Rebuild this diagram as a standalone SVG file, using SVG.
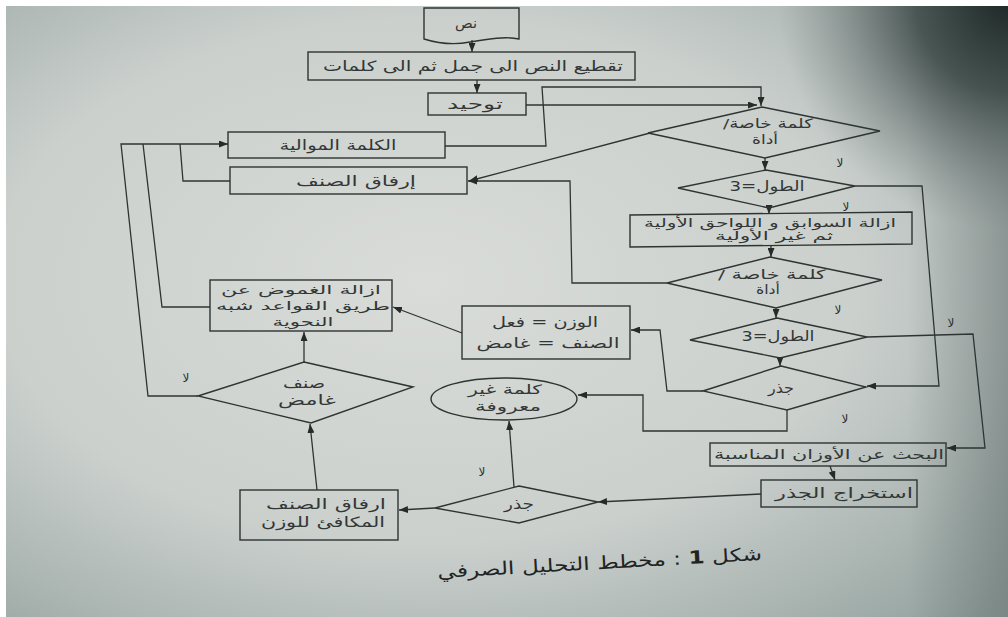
<svg xmlns="http://www.w3.org/2000/svg" width="1008" height="617" viewBox="0 0 1008 617">
<defs>
<radialGradient id="paper" cx="0.42" cy="0.45" r="0.78">
<stop offset="0" stop-color="#d9dcd8"/>
<stop offset="0.55" stop-color="#cbd0cd"/>
<stop offset="1" stop-color="#93a19e"/>
</radialGradient>
<radialGradient id="corner" cx="1008" cy="0" r="230" gradientUnits="userSpaceOnUse">
<stop offset="0" stop-color="#1e2927" stop-opacity="1"/>
<stop offset="0.4" stop-color="#34403e" stop-opacity="0.8"/>
<stop offset="1" stop-color="#6a7674" stop-opacity="0"/>
</radialGradient>
<linearGradient id="rside" x1="0" y1="0" x2="1" y2="0">
<stop offset="0.9" stop-color="#5c6866" stop-opacity="0"/>
<stop offset="1" stop-color="#5c6866" stop-opacity="0.45"/>
</linearGradient>
<marker id="ah" markerWidth="9" markerHeight="7" refX="9" refY="3.5" orient="auto" markerUnits="userSpaceOnUse">
<path d="M0,0 L9,3.5 L0,7 Z" fill="#262b2a"/>
</marker>
<style>
.ln{fill:none;stroke:#2e3433;stroke-width:1.3}
.ar{fill:none;stroke:#2e3433;stroke-width:1.3;marker-end:url(#ah)}
.bx{fill:none;stroke:#2e3433;stroke-width:1.4}
.t{font-family:"DejaVu Sans",sans-serif;font-size:14px;fill:#323736;text-anchor:middle;direction:rtl}
.s{font-size:13px}
.xs{font-size:12px}
.no{font-family:"DejaVu Sans",sans-serif;font-size:12px;fill:#2b302f;text-anchor:middle}
.cap{font-family:"DejaVu Sans",sans-serif;font-size:18px;fill:#1f2423;text-anchor:middle;direction:rtl}
</style>
</defs>
<rect width="1008" height="617" fill="#ffffff"/>
<rect x="6" y="6" width="1002" height="611" fill="url(#paper)"/>
<rect x="6" y="6" width="1002" height="611" fill="url(#rside)"/>
<rect x="6" y="6" width="1002" height="611" fill="url(#corner)"/>

<g id="connectors">
<path class="ar" d="M472,40 V52"/>
<path class="ar" d="M477,80 V93"/>
<path class="ar" d="M526,105 H757"/>
<path class="ar" d="M445,146 H546 L542,87 H761 V106"/>
<path class="ar" d="M650,133 L469,181"/>
<path class="ar" d="M765,158 V170"/>
<path class="ar" d="M855,186 H922 L939,386 H867"/>
<path class="ar" d="M769,207 V214"/>
<path class="ar" d="M771,246 V257"/>
<path class="ar" d="M667,283 H572 L570,181 H468"/>
<path class="ar" d="M776,308 V318"/>
<path class="ar" d="M867,337 L973,334 L985,448 H947"/>
<path class="ar" d="M780,358 V366"/>
<path class="ar" d="M703,391 H667 L660,330 H631"/>
<path class="ar" d="M787,410 V431 H643 V395 H578"/>
<path class="ar" d="M462,333 L393,307"/>
<path class="ln" d="M210,307 H162 L143,144"/>
<path class="ar" d="M198,396 H148 L121,144 H228"/>
<path class="ln" d="M230,181 H183 L180,144"/>
<path class="ar" d="M304,362 V332"/>
<path class="ar" d="M317,490 L310,424"/>
<path class="ar" d="M514,487 L509,421"/>
<path class="ar" d="M435,508 L399,510"/>
<path class="ar" d="M761,494 L598,502"/>
<path class="ar" d="M830,466 L835,480"/>
</g>

<g id="n-text">
<path class="bx" d="M424,8 H519 V39 C505,36 488,39 470,42 C455,45 440,44 424,39 Z"/>
<text class="t" x="466" y="28" textLength="22" lengthAdjust="spacingAndGlyphs">نص</text>
</g>
<g id="n-split">
<rect class="bx" x="308" y="52" width="327" height="28"/>
<text class="t" x="473" y="71" textLength="300" lengthAdjust="spacingAndGlyphs">تقطيع النص الى جمل ثم الى كلمات</text>
</g>
<g id="n-unify">
<rect class="bx" x="428" y="93" width="98" height="22"/>
<text class="t" x="475" y="109" textLength="56" lengthAdjust="spacingAndGlyphs">توحيد</text>
</g>
<g id="n-next">
<rect class="bx" x="228" y="132" width="217" height="26"/>
<text class="t" x="338" y="150" textLength="117" lengthAdjust="spacingAndGlyphs">الكلمة الموالية</text>
</g>
<g id="n-attach">
<rect class="bx" x="230" y="167" width="237" height="27"/>
<text class="t" x="356" y="186" textLength="120" lengthAdjust="spacingAndGlyphs">إرفاق الصنف</text>
</g>
<g id="n-d1">
<polygon class="bx" points="762,107 880,131 765,158 648,133"/>
<text class="t s" x="768" y="128" textLength="90" lengthAdjust="spacingAndGlyphs">كلمة خاصة/</text>
<text class="t s" x="765" y="144" textLength="26" lengthAdjust="spacingAndGlyphs">أداة</text>
</g>
<g id="n-d2">
<polygon class="bx" points="766,170 855,186 769,208 678,188"/>
<text class="t" x="767" y="191" textLength="75" lengthAdjust="spacingAndGlyphs">الطول=3</text>
</g>
<g id="n-strip">
<polygon class="bx" points="630,215 912,212 912,244 630,247"/>
<text class="t xs" x="770" y="227" textLength="252" lengthAdjust="spacingAndGlyphs">ازالة السوابق و اللواحق الأولية</text>
<text class="t xs" x="774" y="240" textLength="118" lengthAdjust="spacingAndGlyphs">ثم غير الأولية</text>
</g>
<g id="n-d3">
<polygon class="bx" points="770,257 882,280 776,308 667,283"/>
<text class="t s" x="772" y="279" textLength="108" lengthAdjust="spacingAndGlyphs">كلمة خاصة /</text>
<text class="t s" x="768" y="294" textLength="24" lengthAdjust="spacingAndGlyphs">أداة</text>
</g>
<g id="n-d4">
<polygon class="bx" points="777,318 867,337 780,358 690,340"/>
<text class="t" x="778" y="341" textLength="73" lengthAdjust="spacingAndGlyphs">الطول=3</text>
</g>
<g id="n-d5">
<polygon class="bx" points="781,366 866,387 787,410 703,391"/>
<text class="t" x="781" y="393" textLength="26" lengthAdjust="spacingAndGlyphs">جذر</text>
</g>
<g id="n-verb">
<rect class="bx" x="462" y="306" width="168" height="53"/>
<text class="t" x="545" y="327" textLength="106" lengthAdjust="spacingAndGlyphs">الوزن = فعل</text>
<text class="t" x="548" y="348" textLength="143" lengthAdjust="spacingAndGlyphs">الصنف = غامض</text>
</g>
<g id="n-disamb">
<rect class="bx" x="210" y="280" width="182" height="51"/>
<text class="t xs" x="301" y="294" textLength="160" lengthAdjust="spacingAndGlyphs">ازالة الغموض عن</text>
<text class="t xs" x="303" y="310" textLength="174" lengthAdjust="spacingAndGlyphs">طريق القواعد شبه</text>
<text class="t xs" x="303" y="326" textLength="61" lengthAdjust="spacingAndGlyphs">النحوية</text>
</g>
<g id="n-ambig">
<polygon class="bx" points="304,362 413,387 311,423 198,396"/>
<text class="t" x="304" y="388" textLength="42" lengthAdjust="spacingAndGlyphs">صنف</text>
<text class="t" x="307" y="405" textLength="58" lengthAdjust="spacingAndGlyphs">غامض</text>
</g>
<g id="n-unknown">
<ellipse class="bx" cx="504" cy="399" rx="73" ry="21"/>
<text class="t s" x="505" y="394" textLength="74" lengthAdjust="spacingAndGlyphs">كلمة غير</text>
<text class="t s" x="508" y="411" textLength="66" lengthAdjust="spacingAndGlyphs">معروفة</text>
</g>
<g id="n-attach2">
<rect class="bx" x="240" y="490" width="158" height="50"/>
<text class="t" x="326" y="509" textLength="120" lengthAdjust="spacingAndGlyphs">ارفاق الصنف</text>
<text class="t" x="323" y="527" textLength="124" lengthAdjust="spacingAndGlyphs">المكافئ للوزن</text>
</g>
<g id="n-d6">
<polygon class="bx" points="519,486 598,502 519,523 435,508"/>
<text class="t" x="519" y="509" textLength="30" lengthAdjust="spacingAndGlyphs">جذر</text>
</g>
<g id="n-extract">
<rect class="bx" x="761" y="480" width="156" height="27"/>
<text class="t" x="844" y="498" textLength="138" lengthAdjust="spacingAndGlyphs">استخراج الجذر</text>
</g>
<g id="n-search">
<rect class="bx" x="710" y="443" width="236" height="23"/>
<text class="t s" x="829" y="459" textLength="230" lengthAdjust="spacingAndGlyphs">البحث عن الأوزان المناسبة</text>
</g>

<g id="labels">
<text class="no" x="840" y="167">لا</text>
<text class="no" x="846" y="211">لا</text>
<text class="no" x="838" y="314">لا</text>
<text class="no" x="951" y="327">لا</text>
<text class="no" x="845" y="423">لا</text>
<text class="no" x="186" y="382">لا</text>
<text class="no" x="482" y="476">لا</text>
</g>

<text class="cap" x="600" y="569" transform="rotate(-3.2 600 569)" textLength="325" lengthAdjust="spacingAndGlyphs">شكل <tspan font-weight="bold">1</tspan> : مخطط التحليل الصرفي</text>
</svg>
